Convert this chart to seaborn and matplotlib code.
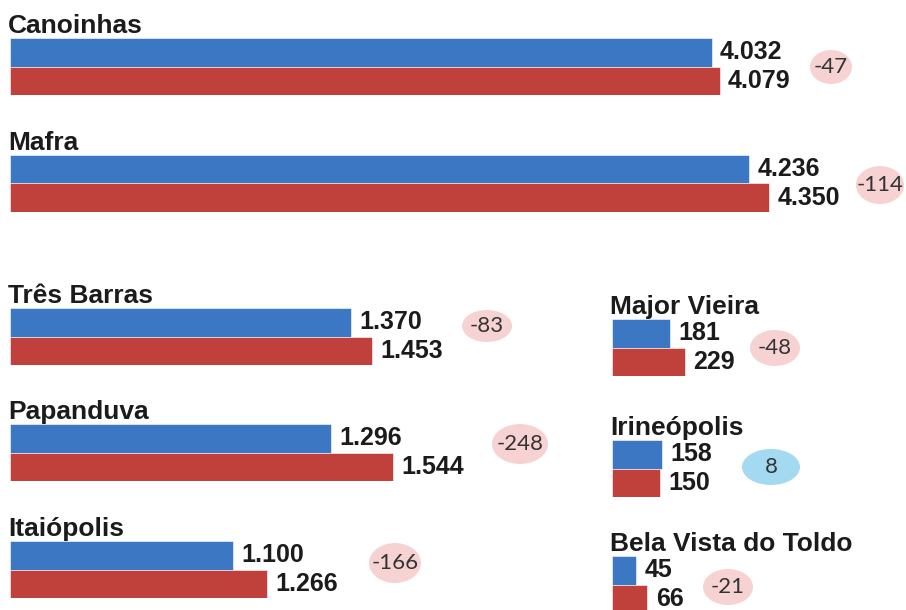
import matplotlib
matplotlib.use("Agg")
import matplotlib.pyplot as plt
from matplotlib.patches import Ellipse
import pandas as pd
import seaborn as sns

### Eleitores por município: dois levantamentos (azul x vermelho) e a diferença

cidades = ["Canoinhas", "Mafra", "Três Barras", "Papanduva", "Itaiópolis",
           "Major Vieira", "Irineópolis", "Bela Vista do Toldo"]
valores_azul = [4032, 4236, 1370, 1296, 1100, 181, 158, 45]
valores_vermelho = [4079, 4350, 1453, 1544, 1266, 229, 150, 66]
series = ["azul", "vermelho"]

# layout (pixels of a 906x610 canvas)
W, H = 906, 610
bar_x0 = [10, 10, 10, 10, 10, 612, 612, 612]
bar_top = [38, 155, 308, 424, 541, 319, 440, 556]
px_per_unit = [0.174, 0.1745, 0.249, 0.248, 0.203, 0.318, 0.318, 0.535]
bubble_x = [831, 880, 487, 520, 395, 775, 771, 728]
bubble_y = [67, 185, 326, 444, 563, 348, 467, 587]
bubble_w = [42, 48, 50, 56, 52, 50, 58, 50]
bubble_h = [34, 38, 32, 40, 40, 36, 36, 36]
BAR_H = 28.5

BLUE = "#3b77c3"
RED = "#c0403c"
PINK = "#f7d2d2"
LIGHTBLUE = "#a3daf1"

sns.set_style("white")
plt.rcParams["font.family"] = ["Liberation Sans", "DejaVu Sans"]

fig = plt.figure(figsize=(W / 100, H / 100), dpi=100)
fig.patch.set_facecolor("white")


def fmt(v):
    return f"{v:,}".replace(",", ".")


for i, cidade in enumerate(cidades):
    df = pd.DataFrame({"serie": series,
                       "valor": [valores_azul[i], valores_vermelho[i]]})
    ax_w = W - bar_x0[i] - 4
    rect = [bar_x0[i] / W, 1 - (bar_top[i] + 2 * BAR_H) / H,
            ax_w / W, 2 * BAR_H / H]
    ax = fig.add_axes(rect)
    sns.barplot(data=df, x="valor", y="serie", hue="serie", orient="h",
                palette=[BLUE, RED], saturation=1, width=1.0, legend=False,
                ax=ax, edgecolor="white", linewidth=0.4)
    ax.set_xlim(0, ax_w / px_per_unit[i])
    ax.set_ylim(1.5, -0.5)
    ax.axis("off")
    for cont in ax.containers:
        vals = [int(b.get_width()) for b in cont]
        ax.bar_label(cont, labels=[fmt(v) for v in vals], padding=6,
                     fontsize=18, fontweight="bold", color="#1b1b1b",
                     clip_on=False)

    # city name above the pair of bars
    fig.text((bar_x0[i] - 2) / W, 1 - (bar_top[i] - 5) / H, cidade,
             fontsize=19, fontweight="bold", color="#1b1b1b",
             va="baseline", ha="left")

    # difference bubble
    diff = valores_azul[i] - valores_vermelho[i]
    cor = LIGHTBLUE if diff > 0 else PINK
    cx, cy = bubble_x[i] / W, 1 - bubble_y[i] / H
    fig.patches.append(Ellipse((cx, cy), bubble_w[i] / W, bubble_h[i] / H,
                               transform=fig.transFigure, facecolor=cor,
                               edgecolor="none"))
    fig.text(cx, cy, str(diff), fontsize=16,
             color="#333333", ha="center", va="center",
             family=["Lato", "Liberation Sans", "DejaVu Sans"])

plt.savefig("out.png", dpi=100)
plt.close()
